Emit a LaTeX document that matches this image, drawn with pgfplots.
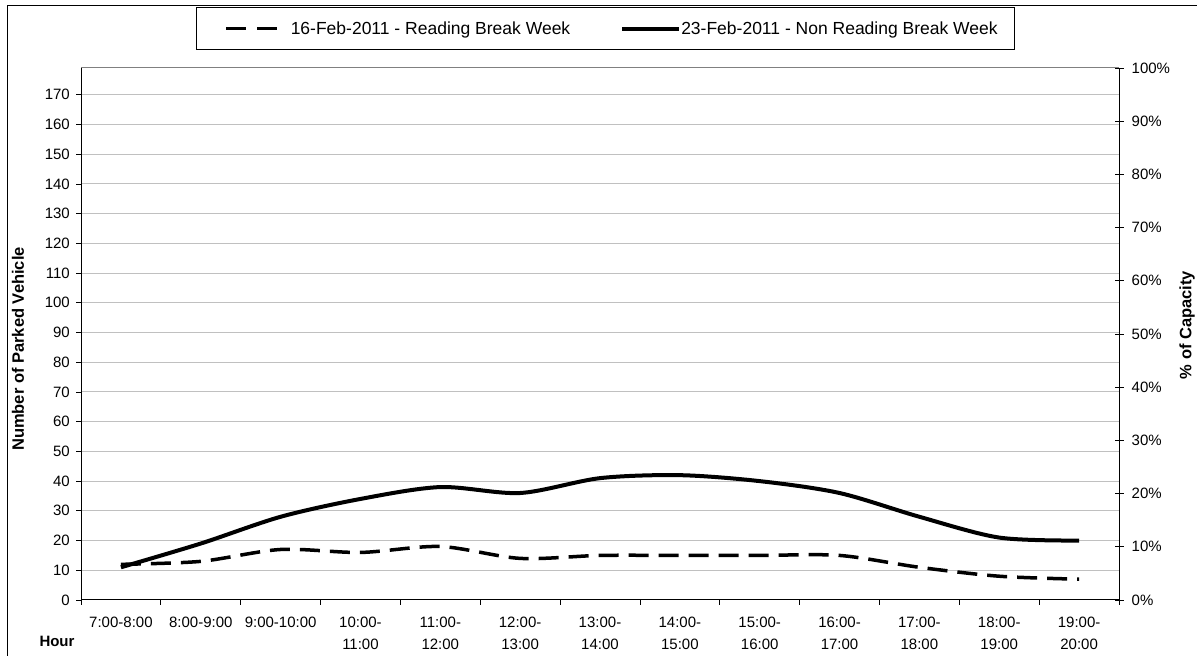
\documentclass[border=0pt]{standalone}
\usepackage{fontspec}
\setmainfont{Liberation Sans}
\usepackage{pgfplots}
\pgfplotsset{compat=1.18}

\definecolor{gridgray}{HTML}{C0C0C0}
\definecolor{topgray}{HTML}{808080}

% hourly counts, categories 1..13 (7:00-8:00 ... 19:00-20:00)
\pgfplotstableread{
x  feb16 feb23
1  12    11
2  13    19
3  17    28
4  16    34
5  18    38
6  14    36
7  15    41
8  15    42
9  15    40
10 15    36
11 11    28
12 8     21
13 7     20
}\parked

\begin{document}
\begin{tikzpicture}
\useasboundingbox (0,0) rectangle (1197pt,656pt);
\begin{scope}
\clip (0,0) rectangle (1197pt,656pt);
\draw[line width=1pt] (7.5pt,-5pt) -- (7.5pt,650.5pt) -- (1210pt,650.5pt);
\end{scope}

\begin{axis}[
    at={(81pt,56pt)}, anchor=south west,
    scale only axis, width=1038pt, height=532pt,
    xmin=0.5, xmax=13.5, ymin=0, ymax=179,
    axis x line*=bottom, axis y line*=left,
    axis line style={line width=1pt, -},
    ytick={0,10,...,170},
    xtick={1,...,13},
    xticklabels={7:00-8:00,8:00-9:00,9:00-10:00,{10:00-\\11:00},{11:00-\\12:00},{12:00-\\13:00},{13:00-\\14:00},{14:00-\\15:00},{15:00-\\16:00},{16:00-\\17:00},{17:00-\\18:00},{18:00-\\19:00},{19:00-\\20:00}},
    minor xtick={0.5,1.5,...,13.5},
    tick align=outside,
    major tick length=5pt, minor tick length=5pt,
    major x tick style={draw=none},
    minor x tick style={line width=0.8pt, black},
    ytick style={line width=0.8pt, black},
    ymajorgrids,
    major grid style={gridgray, line width=1pt},
    /pgf/number format/assume math mode=true,
    tick label style={font=\fontsize{15}{22}\selectfont},
    xticklabel style={align=center, inner sep=0pt, yshift=-12pt},
    yticklabel style={inner sep=0pt, xshift=-6pt},
    legend columns=2,
    legend style={at={(axis description cs:0.5053,1.0742)}, anchor=center,
        draw=black, line width=1pt, fill=white,
        font=\fontsize{17.5}{20}\selectfont,
        inner xsep=17pt, inner ysep=14pt,
        nodes={inner sep=0pt},
        /tikz/column 1/.style={column sep=12pt},
        /tikz/column 2/.style={column sep=50pt}},
    clip=false,
]
\draw[topgray, line width=1pt] (rel axis cs:0,1) -- (rel axis cs:1,1);
\addplot[black, line width=3.5pt, dash pattern=on 20pt off 10pt, smooth,
    legend image code/.code={\path (0pt,0pt); \draw[black, line width=3.5pt, dash pattern=on 20pt off 11pt] (11pt,0pt) -- (62pt,0pt);}]
    table[x=x, y=feb16] {\parked};
\addlegendentry{16-Feb-2011 - Reading Break Week}
\addplot[black, line width=4pt, smooth,
    legend image code/.code={\draw[black, line width=4pt] (0pt,0pt) -- (57pt,0pt);}]
    table[x=x, y=feb23] {\parked};
\addlegendentry{23-Feb-2011 - Non Reading Break Week}
\end{axis}

\begin{axis}[
    at={(81pt,56pt)}, anchor=south west,
    scale only axis, width=1038pt, height=532pt,
    xmin=0.5, xmax=13.5, ymin=0, ymax=100,
    hide x axis,
    axis y line*=right,
    axis line style={line width=1pt, -},
    ytick={0,10,...,100},
    yticklabel={\pgfmathprintnumber{\tick}\%},
    tick align=center, major tick length=9pt,
    ytick style={line width=0.8pt, black},
    /pgf/number format/assume math mode=true,
    tick label style={font=\fontsize{15}{18}\selectfont},
    yticklabel style={inner sep=0pt, xshift=8pt},
]
\end{axis}

\node[rotate=90, font=\fontsize{16.5}{18}\selectfont\bfseries] at (18pt,307pt) {Number of Parked Vehicle};
\node[rotate=90, font=\fontsize{16.5}{18}\selectfont\bfseries] at (1187pt,331pt) {\% of Capacity};
\node[font=\fontsize{15}{18}\selectfont\bfseries] at (57pt,15pt) {Hour};
\end{tikzpicture}
\end{document}
